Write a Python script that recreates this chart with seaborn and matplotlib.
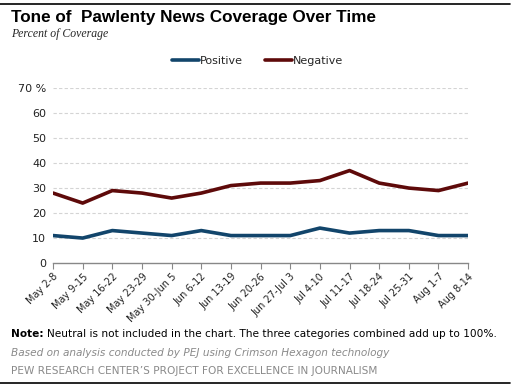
import matplotlib
matplotlib.use("Agg")
import matplotlib.pyplot as plt
import seaborn as sns
import pandas as pd
from matplotlib.lines import Line2D

weeks = ["May 2-8", "May 9-15", "May 16-22", "May 23-29", "May 30-Jun 5",
         "Jun 6-12", "Jun 13-19", "Jun 20-26", "Jun 27-Jul 3", "Jul 4-10",
         "Jul 11-17", "Jul 18-24", "Jul 25-31", "Aug 1-7", "Aug 8-14"]
positive = [11, 10, 13, 12, 11, 13, 11, 11, 11, 14, 12, 13, 13, 11, 11]
negative = [28, 24, 29, 28, 26, 28, 31, 32, 32, 33, 37, 32, 30, 29, 32]
yticks = [0, 10, 20, 30, 40, 50, 60, 70]
ytick_labels = ["0", "10", "20", "30", "40", "50", "60", "70 %"]

df = pd.DataFrame({
    "week": weeks * 2,
    "x": list(range(len(weeks))) * 2,
    "value": positive + negative,
    "tone": ["Positive"] * len(weeks) + ["Negative"] * len(weeks),
})

sns.set_theme(style="white")
plt.rcParams['font.family'] = ['DejaVu Sans']

fig = plt.figure(figsize=(5.15, 3.88), dpi=100)
ax = fig.add_axes([0.103, 0.322, 0.806, 0.451])

sns.lineplot(data=df, x="x", y="value", hue="tone",
             palette={"Positive": "#12456b", "Negative": "#5e0a0a"},
             linewidth=2.6, ax=ax, legend=False)

ax.set_xlim(0, len(weeks) - 1)
ax.set_ylim(0, 70)
ax.set_yticks(yticks)
ax.set_yticklabels(ytick_labels, fontsize=8, color="#222222")
ax.set_xticks(range(len(weeks)))
ax.set_xticklabels(weeks, rotation=45, ha="right", rotation_mode="anchor",
                   fontsize=7, color="#222222")
ax.set_xlabel("")
ax.set_ylabel("")
for yv in yticks[1:]:
    ax.axhline(yv, color="#d4d4d4", linestyle=(0, (3, 2)), linewidth=0.8, zorder=0)
for s in ["top", "right", "left"]:
    ax.spines[s].set_visible(False)
ax.spines["bottom"].set_color("#888888")
ax.spines["bottom"].set_linewidth(1)
ax.tick_params(axis="x", which="both", bottom=True, length=4, width=0.8,
               color="#888888", pad=2)
ax.tick_params(axis="y", length=0, pad=5)

handles = [Line2D([0], [0], color="#12456b", lw=2.6),
           Line2D([0], [0], color="#5e0a0a", lw=2.6)]
fig.legend(handles, ["Positive", "Negative"], loc="center",
           bbox_to_anchor=(0.5, 0.843), ncol=2, frameon=False, fontsize=8,
           handlelength=2.4, handletextpad=0.1, columnspacing=2.0)

fig.add_artist(Line2D([0.0, 0.99], [0.99, 0.99], color="black", lw=1.2,
                      transform=fig.transFigure))
fig.add_artist(Line2D([0.0, 0.99], [0.013, 0.013], color="black", lw=1.2,
                      transform=fig.transFigure))

fig.text(0.022, 0.955, "Tone of  Pawlenty News Coverage Over Time",
         fontsize=12.3, fontweight="bold", va="center", ha="left",
         color="black", family=["Liberation Sans"])
fig.text(0.022, 0.912, "Percent of Coverage", fontsize=8.5, style="italic",
         va="center", ha="left", family=["Liberation Serif"])

note_b = fig.text(0.022, 0.139, "Note:", fontsize=7.6, fontweight="bold",
                  va="center", ha="left", color="black")
fig.canvas.draw()
bb = note_b.get_window_extent(renderer=fig.canvas.get_renderer())
x_after = (bb.x1 + 3) / fig.bbox.width
fig.text(x_after, 0.139, "Neutral is not included in the chart. The three categories combined add up to 100%.",
         fontsize=7.6, va="center", ha="left", color="black")
fig.text(0.022, 0.090, "Based on analysis conducted by PEJ using Crimson Hexagon technology",
         fontsize=7.6, style="italic", va="center", ha="left", color="#8a8a8a")
fig.text(0.022, 0.043, "PEW RESEARCH CENTER\u2019S PROJECT FOR EXCELLENCE IN JOURNALISM",
         fontsize=7.6, va="center", ha="left", color="#8a8a8a")

fig.savefig("out.png", dpi=100)
